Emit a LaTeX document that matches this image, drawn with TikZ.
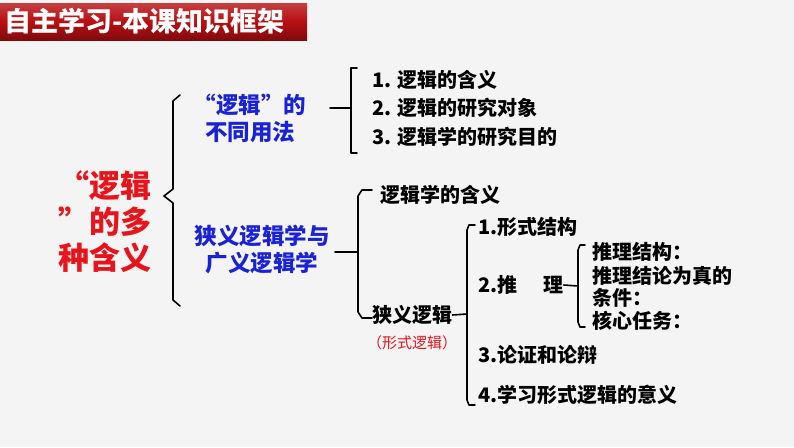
\documentclass[tikz,border=0pt]{standalone}
\usepackage{fontspec}
\setmainfont{Noto Sans CJK SC}
\definecolor{bg}{HTML}{F4F4F4}
\definecolor{hdr}{HTML}{B80F12}
\definecolor{myred}{HTML}{E8141B}
\definecolor{myblue}{HTML}{1A22D6}
\tikzset{
 br/.style={line width=1.6pt,line join=round,line cap=round},
 itm/.style={anchor=west,inner sep=0pt,font=\fontsize{20}{22}\selectfont\bfseries},
 blu/.style={inner sep=0pt,text=myblue,font=\fontsize{22.5}{27}\selectfont\bfseries,align=center},
}
\begin{document}
\begin{tikzpicture}[x=1pt,y=-1pt]
\useasboundingbox (0,0) rectangle (794,447);
\fill[bg] (0,0) rectangle (794,447);
\fill[top color=hdr!80!white,bottom color=hdr!70!black,middle color=hdr] (0,3) rectangle (307,40);
\node[anchor=west,text=white,font=\fontsize{27}{29}\selectfont\bfseries,inner sep=0pt] (h) at (4,21) {自主学习-本课知识框架};
% left red
\node[inner sep=0pt,text=myred,font=\fontsize{31}{36}\selectfont\bfseries,align=center] (m) at (105,222) {“逻辑\\”的多\\种含义};
% bracket 1
\draw[br] (180,95) -- (173,101) -- (173,189) -- (164,196) -- (173,203) -- (173,300) -- (180,306);
\node[blu] (b1) at (250,118) {“逻辑”的\\不同用法};
\node[blu] (b2) at (262,250) {狭义逻辑学与\\广义逻辑学};
% bracket 2
\draw[br] (357,68) -- (351,68) -- (351,153) -- (357,153);
\draw[br] (330,108) -- (351,108);
\node[itm] (i1) at (372,80) {1. 逻辑的含义};
\node[itm] (i2) at (372,108) {2. 逻辑的研究对象};
\node[itm] (i3) at (372,137) {3. 逻辑学的研究目的};
% bracket 3
\draw[br] (372,190) -- (362,190) -- (358,196) -- (358,312) -- (362,318) -- (372,318);
\draw[br] (335,252) -- (358,252);
\node[itm] (n1) at (380,195) {逻辑学的含义};
\node[itm] (n2) at (372,315) {狭义逻辑};
\node[anchor=west,inner sep=0pt,text=myred,font=\fontsize{15}{17}\selectfont] (n3) at (367,343) {（形式逻辑）};
% bracket 4
\draw[br] (475,225) -- (469,225) -- (467,230) -- (467,400) -- (469,405) -- (475,405);
\draw[br] (n2.east) -- (467,314);
\node[itm] (f1) at (478,227) {1.形式结构};
\node[itm] (f2) at (478,285) {2.推\hspace{1.3em}理};
\node[itm] (f3) at (478,355) {3.论证和论辩};
\node[itm] (f4) at (478,395) {4.学习形式逻辑的意义};
% bracket 5
\draw[br] (585,245) -- (580,245) -- (578,250) -- (578,322) -- (580,327) -- (585,327);
\draw[br] (f2.east) -- (578,286);
\node[itm] (r1) at (592,252) {推理结构：};
\node[itm] (r2) at (592,276) {推理结论为真的};
\node[itm] (r3) at (592,298) {条件：};
\node[itm] (r4) at (592,321) {核心任务：};
\end{tikzpicture}
\end{document}
